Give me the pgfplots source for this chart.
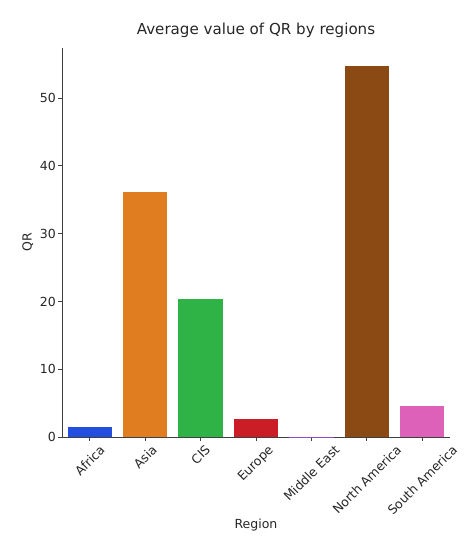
\documentclass[border=0pt]{standalone}
\usepackage{fontspec}
\setmainfont{DejaVu Sans}
\usepackage{graphicx}
\usepackage{pgfplots}
\pgfplotsset{compat=1.18}

% seaborn "bright" palette, desaturated to 0.75 as barplot does
\definecolor{cAfrica}{HTML}{224FDF}
\definecolor{cAsia}{HTML}{DF7D20}
\definecolor{cCIS}{HTML}{30B346}
\definecolor{cEurope}{HTML}{CB1D25}
\definecolor{cMideast}{HTML}{8B4BC9}
\definecolor{cNAm}{HTML}{8B4A14}
\definecolor{cSAm}{HTML}{DD61B9}
\definecolor{txt}{HTML}{262626}

\begin{document}
\begin{tikzpicture}
\path[use as bounding box] (0,0) rectangle (470pt,550pt);
\begin{axis}[
  at={(62pt,113pt)}, anchor=south west,
  scale only axis, width=388pt, height=389pt,
  ybar, bar shift=0pt, bar width=0.8,
  xmin=-0.5, xmax=6.5, ymin=0, ymax=57.4,
  axis lines=left, axis line style={-, line width=0.9pt, black!75},
  tick align=outside, major tick length=4pt,
  tick style={line width=0.9pt, black!75},
  xtick={0,1,2,3,4,5,6},
  xticklabels={{\rotatebox{45}{Africa}},{\rotatebox{45}{Asia}},{\rotatebox{45}{CIS}},
    {\rotatebox{45}{Europe}},{\rotatebox{45}{Middle East}},{\rotatebox{45}{North America}},
    {\rotatebox{45}{South America}}},
  x tick label style={anchor=north, font=\fontsize{12.5}{14}\selectfont, text=txt, inner sep=1pt, yshift=-2pt},
  ytick={0,10,20,30,40,50},
  y tick label style={font=\fontsize{12.5}{14}\selectfont, text=txt, inner sep=2pt},
  /pgf/number format/assume math mode=true,
  xlabel={Region}, ylabel={QR},
  xlabel style={at={(axis description cs:0.5,-0.226)}, anchor=center,
    font=\fontsize{12.5}{14}\selectfont, text=txt},
  ylabel style={at={(axis description cs:-0.088,0.5)}, anchor=center, rotate=0,
    font=\fontsize{12.5}{14}\selectfont, text=txt},
  title={Average value of QR by regions},
  title style={at={(axis description cs:0.5,1.031)}, anchor=center,
    font=\fontsize{15.1}{17}\selectfont, text=txt},
]
\addplot[fill=cAfrica, draw=none, bar shift=0pt] coordinates {(0,1.5)};
\addplot[fill=cAsia, draw=none, bar shift=0pt] coordinates {(1,36.2)};
\addplot[fill=cCIS, draw=none, bar shift=0pt] coordinates {(2,20.4)};
\addplot[fill=cEurope, draw=none, bar shift=0pt] coordinates {(3,2.7)};
\addplot[fill=cMideast, draw=none, bar shift=0pt] coordinates {(4,0.02)};
\addplot[fill=cNAm, draw=none, bar shift=0pt] coordinates {(5,54.7)};
\addplot[fill=cSAm, draw=none, bar shift=0pt] coordinates {(6,4.6)};
\end{axis}
\end{tikzpicture}
\end{document}
